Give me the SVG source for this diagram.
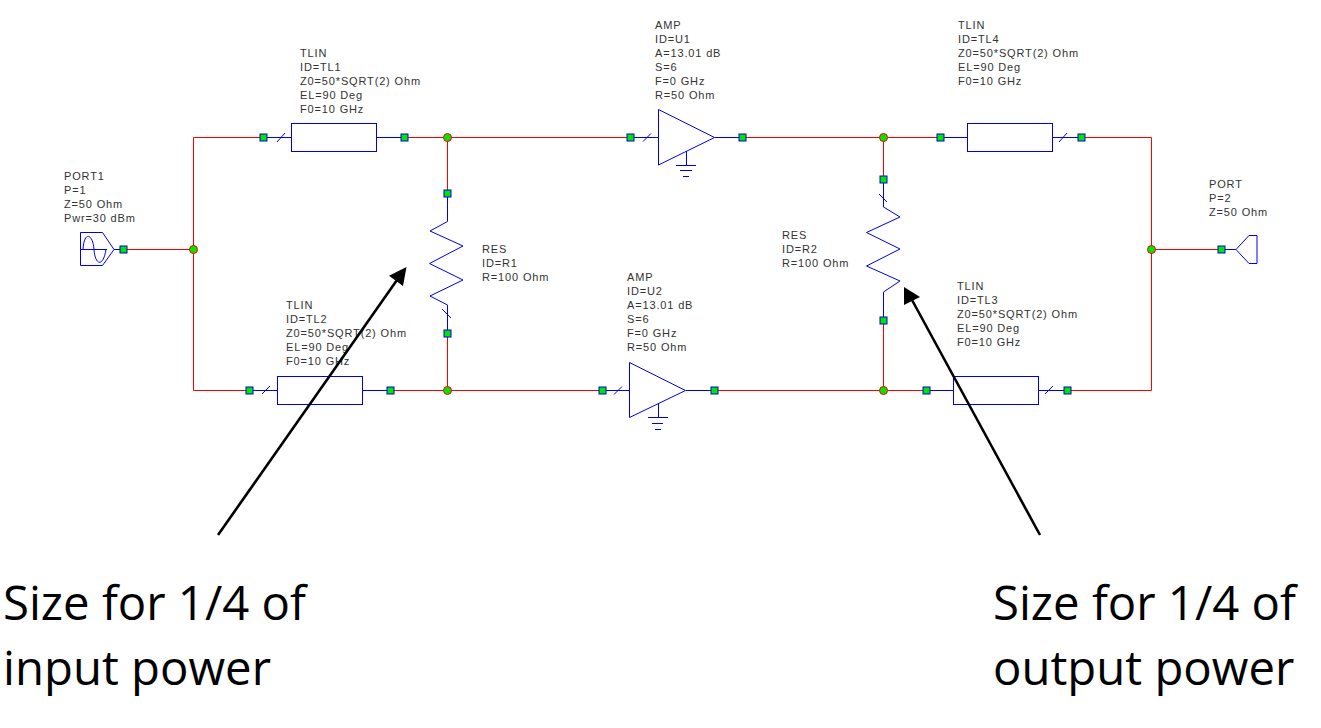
<svg xmlns="http://www.w3.org/2000/svg" width="1321" height="728" viewBox="0 0 1321 728">
<style>
.w{fill:none;stroke:#ff0000;stroke-width:1}
.b{fill:none;stroke:#0000e6;stroke-width:1}
.l{font:11px "Liberation Sans",Arial,sans-serif;fill:#333;letter-spacing:.85px}
.big{font:47.300px "Open Sans",sans-serif;fill:#000}
.a{stroke:#000;stroke-width:2.6;fill:none}
</style>
<defs>
<rect id="sq" x="-3" y="-3" width="7" height="7" fill="#00e600" stroke="#0000e6" stroke-width="1"/>
<circle id="jn" cx=".5" cy=".5" r="4" fill="#00e600" stroke="#ff0000" stroke-width="1"/>
</defs>
<g id="connectors">
<path class="w" transform="translate(.5 .5)" d="M123 249H193M263 137H193V390H249M404 137H630M742 137H940M1081 137H1151V390H1067M1151 249H1221M390 390H602M714 390H926M447 137V193M447 333V390M883 137V179M883 320V390"/>
</g>
<g id="PORT1">
<path class="b" d="M80.500 232.500H102.500L114 249.500L102.500 265.500H80.500ZM81 249.500H107M114 249.500H123"/>
<path class="b" d="M83 249.500C84 230 93 234 94 249.500S103 268 106 249.500"/>
<use href="#sq" x="123" y="249"/>
<text class="l" x="64" y="180">PORT1</text><text class="l" x="64" y="194">P=1</text><text class="l" x="64" y="208">Z=50 Ohm</text><text class="l" x="64" y="222">Pwr=30 dBm</text>
</g>
<g id="TL1">
<path class="b" d="M263 137.500H291.500M404 137.500H376.500M277 142L285 133"/><rect class="b" x="291.500" y="123.500" width="85" height="28"/>
<use href="#sq" x="263" y="137"/><use href="#sq" x="404" y="137"/>
<text class="l" x="300" y="57">TLIN</text><text class="l" x="300" y="71">ID=TL1</text><text class="l" x="300" y="85">Z0=50*SQRT(2) Ohm</text><text class="l" x="300" y="99">EL=90 Deg</text><text class="l" x="300" y="113">F0=10 GHz</text>
</g>
<g id="TL2">
<path class="b" d="M249 390.500H277.500M390 390.500H362.500M262 394L270 386"/><rect class="b" x="277.500" y="376.500" width="85" height="28"/>
<use href="#sq" x="249" y="390"/><use href="#sq" x="390" y="390"/>
<text class="l" x="286" y="309">TLIN</text><text class="l" x="286" y="323">ID=TL2</text><text class="l" x="286" y="337">Z0=50*SQRT(2) Ohm</text><text class="l" x="286" y="351">EL=90 Deg</text><text class="l" x="286" y="365">F0=10 GHz</text>
</g>
<g id="TL4">
<path class="b" d="M940 137.500H967.500M1081 137.500H1052.500M1059 142L1067 133"/><rect class="b" x="967.500" y="123.500" width="85" height="28"/>
<use href="#sq" x="940" y="137"/><use href="#sq" x="1081" y="137"/>
<text class="l" x="958" y="29">TLIN</text><text class="l" x="958" y="43">ID=TL4</text><text class="l" x="958" y="57">Z0=50*SQRT(2) Ohm</text><text class="l" x="958" y="71">EL=90 Deg</text><text class="l" x="958" y="85">F0=10 GHz</text>
</g>
<g id="TL3">
<path class="b" d="M926 390.500H953.500M1067 390.500H1038.500M1045 394L1053 386"/><rect class="b" x="953.500" y="376.500" width="85" height="28"/>
<use href="#sq" x="926" y="390"/><use href="#sq" x="1067" y="390"/>
<text class="l" x="957" y="290">TLIN</text><text class="l" x="957" y="304">ID=TL3</text><text class="l" x="957" y="318">Z0=50*SQRT(2) Ohm</text><text class="l" x="957" y="332">EL=90 Deg</text><text class="l" x="957" y="346">F0=10 GHz</text>
</g>
<g id="U1">
<path class="b" d="M658.500 109.500L714.500 137.500L658.500 165ZM630 137.500H658M715 137.500H742M643 141.500L651 133.500M686.500 151V165M676 165.500H696M680 170.500H692M683 176.500H689"/>
<use href="#sq" x="630" y="137"/><use href="#sq" x="742" y="137"/>
<text class="l" x="655" y="29">AMP</text><text class="l" x="655" y="43">ID=U1</text><text class="l" x="655" y="57">A=13.01 dB</text><text class="l" x="655" y="71">S=6</text><text class="l" x="655" y="85">F=0 GHz</text><text class="l" x="655" y="99">R=50 Ohm</text>
</g>
<g id="U2">
<path class="b" d="M629.500 362.500L685.500 390.500L629.500 417.500ZM602 390.500H629M686 390.500H714M614 394.500L622 386.500M658.500 404V417.500M648 417.500H668M652 423.500H663M655 429.500H661"/>
<use href="#sq" x="602" y="390"/><use href="#sq" x="714" y="390"/>
<text class="l" x="627" y="281">AMP</text><text class="l" x="627" y="295">ID=U2</text><text class="l" x="627" y="309">A=13.01 dB</text><text class="l" x="627" y="323">S=6</text><text class="l" x="627" y="337">F=0 GHz</text><text class="l" x="627" y="351">R=50 Ohm</text>
</g>
<g id="R1">
<path class="b" d="M447.500 193V221.500L430 231L463 246L429.500 263.500L463 280L430 296L447.500 305V333M442 309L451 318"/>
<use href="#sq" x="447" y="193"/><use href="#sq" x="447" y="333"/>
<text class="l" x="482" y="253">RES</text><text class="l" x="482" y="267">ID=R1</text><text class="l" x="482" y="281">R=100 Ohm</text>
</g>
<g id="R2">
<path class="b" d="M883.500 179V207L900 217L866.500 232.500L900 249L866.500 266L900 281L883.500 292V320M879 194L887 202"/>
<use href="#sq" x="883" y="179"/><use href="#sq" x="883" y="320"/>
<text class="l" x="782" y="239">RES</text><text class="l" x="782" y="253">ID=R2</text><text class="l" x="782" y="267">R=100 Ohm</text>
</g>
<g id="PORT2">
<path class="b" d="M1221 249.500H1236M1236 249.500L1249 235.500H1257V263.500H1249Z"/>
<use href="#sq" x="1221" y="249"/>
<text class="l" x="1209" y="188">PORT</text><text class="l" x="1209" y="202">P=2</text><text class="l" x="1209" y="216">Z=50 Ohm</text>
</g>
<g id="junctions">
<use href="#jn" x="193" y="249"/><use href="#jn" x="447" y="137"/><use href="#jn" x="447" y="390"/><use href="#jn" x="883" y="137"/><use href="#jn" x="883" y="390"/><use href="#jn" x="1151" y="249"/>
</g>
<g id="arrows">
<path class="a" d="M218 535L397 280M1040 535L912 300"/>
<path fill="#000" d="M406.500 267L389 275.700L403 286ZM904 287L904 305L920 297Z"/>
</g>
<g id="captions">
<text class="big" x="3" y="620">Size for 1/4 of</text><text class="big" x="3" y="685">input power</text>
<text class="big" x="993" y="620">Size for 1/4 of</text><text class="big" x="993" y="685">output power</text>
</g>
</svg>
